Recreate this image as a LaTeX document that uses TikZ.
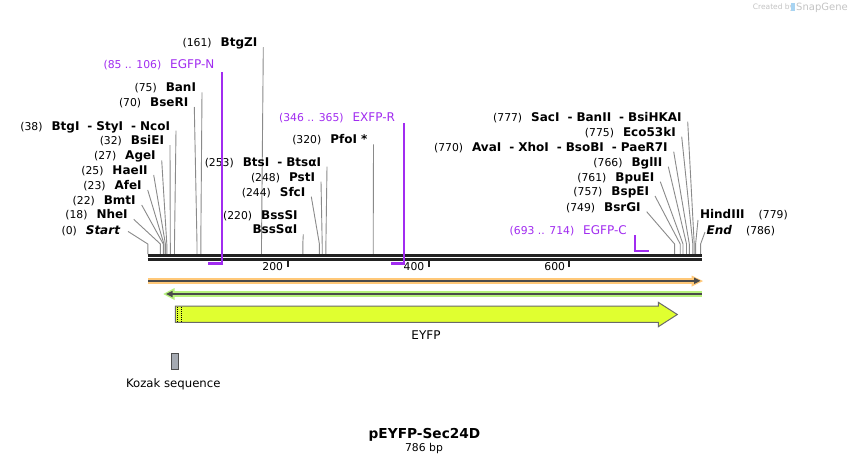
\documentclass[tikz,border=0pt]{standalone}
\usepackage{fontspec}
\setmainfont{DejaVu Sans}
\usetikzlibrary{arrows.meta}
\definecolor{primer}{HTML}{A12CF0}
\definecolor{cutgray}{HTML}{8A8A8A}
\definecolor{seqblack}{HTML}{222222}
\definecolor{orglow}{HTML}{FFC878}
\definecolor{grnglow}{HTML}{B6F27C}
\definecolor{arrdark}{HTML}{4A4A4A}
\definecolor{eyfpfill}{HTML}{E0FF30}
\definecolor{eyfpline}{HTML}{6A6A6A}
\definecolor{kozakfill}{HTML}{A5AAB2}
\definecolor{wmgray}{HTML}{C4C4C4}
\definecolor{wmblue}{HTML}{A8D4F2}
\newcommand\snNum{\fontsize{10.8}{13}\selectfont}
\newcommand\snName{\fontsize{12}{14}\selectfont\bfseries}
\newcommand\snSep{\hspace{8pt}-\hspace{4pt}}
\newcommand\snLbl[2]{{\snNum(#1)}\hspace{9pt}{\snName #2}}
\newcommand\snCut[5]{%
  \node[lab] (#1) at (#3,#4) {#5};
  \coordinate (#1k) at (#2,244);
  \coordinate (#1s) at (#2,254);
  \draw[cut] ([shift={(6,0.6)}]#1.base east) -- (#1k) -- (#1s);
}
\begin{document}
\begin{tikzpicture}[x=1pt,y=-1pt,
  lab/.style={inner sep=0pt,outer sep=0pt,anchor=base east},
  cut/.style={draw=cutgray,line width=0.9pt},
  primerline/.style={draw=primer,line width=1.8pt},
  primerfoot/.style={draw=primer,line width=2.2pt},
  seqline/.style={draw=seqblack,line width=2.7pt},
  tickline/.style={draw=seqblack,line width=2pt},
  ticklab/.style={inner sep=0pt,anchor=base east,font=\snNum},
  featdark/.style={draw=arrdark,line width=1.6pt}]
\fill[white] (0,0) rectangle (850,464);
\useasboundingbox (0,0) rectangle (850,464);

% watermark
\node[inner sep=0pt,anchor=base west,text=wmgray,font=\fontsize{7.5}{9}\selectfont] (wm1) at (752.7,9.4) {Created by};
\fill[wmblue] (791,2.5) rectangle (795,11);
\node[inner sep=0pt,anchor=base west,text=wmgray,font=\fontsize{10}{12}\selectfont] (wm2) at (796,10.6) {SnapGene};

% cut sites, left group
\node[lab] (start) at (120,234.4) {{\snNum(0)}\hspace{9pt}{\snName\itshape Start}};
\coordinate (startk) at (147.8,244);
\coordinate (starts) at (147.8,254);
\draw[cut] ([shift={(8,-3)}]start.base east) -- (startk) -- (starts);
\snCut{nheI}{160.4}{127.7}{218.7}{\snLbl{18}{NheI}}
\snCut{bmtI}{163.3}{135.7}{204.4}{\snLbl{22}{BmtI}}
\snCut{afeI}{164.0}{141.7}{189.4}{\snLbl{23}{AfeI}}
\snCut{haeII}{165.4}{147.7}{174.4}{\snLbl{25}{HaeII}}
\snCut{ageI}{166.8}{155.7}{159.7}{\snLbl{27}{AgeI}}
\snCut{bsiEI}{170.3}{164}{144.4}{\snLbl{32}{BsiEI}}
\snCut{btgI}{174.5}{170}{130.1}{\snLbl{38}{BtgI\snSep StyI\snSep NcoI}}
\snCut{bseRI}{197.0}{188.3}{106.4}{\snLbl{70}{BseRI}}
\snCut{banI}{200.8}{196}{91.7}{\snLbl{75}{BanI}}
\snCut{btgZI}{261.5}{257.3}{46.7}{\snLbl{161}{BtgZI}}

% middle group
\node[lab] (bssSI) at (297.7,219.4) {\snLbl{220}{BssSI}};
\node[lab] (bssSaI) at (297.3,233.7) {{\snName BssSαI}};
\coordinate (bssk) at (302.8,244);
\coordinate (bsss) at (302.8,254);
\draw[cut] ([shift={(6,0.6)}]bssSaI.base east) -- (bssk) -- (bsss);
\snCut{sfcI}{319.4}{305.3}{196.1}{\snLbl{244}{SfcI}}
\snCut{pstI}{322.2}{315}{181.1}{\snLbl{248}{PstI}}
\snCut{btsI}{325.9}{321}{166.1}{\snLbl{253}{BtsI\snSep BtsαI}}
\snCut{pfoI}{373.2}{367.5}{143.7}{\snLbl{320}{PfoI *}}

% right group
\snCut{bsrGI}{674.6}{640.7}{211.1}{\snLbl{749}{BsrGI}}
\snCut{bspEI}{680.2}{649}{195.4}{\snLbl{757}{BspEI}}
\snCut{bpuEI}{683.0}{654.3}{181.1}{\snLbl{761}{BpuEI}}
\snCut{bglII}{686.5}{662.3}{166.1}{\snLbl{766}{BglII}}
\snCut{avaI}{689.3}{667.7}{151.1}{\snLbl{770}{AvaI\snSep XhoI\snSep BsoBI\snSep PaeR7I}}
\snCut{ecoI}{692.8}{675.7}{136.1}{\snLbl{775}{Eco53kI}}
\snCut{sacI}{694.2}{681.7}{121.1}{\snLbl{777}{SacI\snSep BanII\snSep BsiHKAI}}
\node[lab,anchor=base west] (hindIII) at (700,218.4) {{\snName HindIII}\hspace{14pt}{\snNum(779)}};
\coordinate (hindk) at (695.6,244);
\coordinate (hinds) at (695.6,254);
\draw[cut] ([shift={(-2,1.6)}]hindIII.base west) -- (hindk) -- (hinds);
\node[lab,anchor=base west] (endl) at (706.7,234.4) {{\snName\itshape End}\hspace{14pt}{\snNum(786)}};
\coordinate (endk) at (700.6,244);
\coordinate (ends) at (700.6,254);
\draw[cut] ([shift={(-1.7,-2.4)}]endl.base west) -- (endk) -- (ends);

% sequence
\draw[seqline] (147.5,255.3) -- (701.5,255.3);
\draw[seqline] (147.5,259.4) -- (701.5,259.4);
\draw[tickline] (287.8,260) -- (287.8,266.5);
\draw[tickline] (428.5,260) -- (428.5,266.5);
\draw[tickline] (569.3,260) -- (569.3,266.5);
\node[ticklab] (t200) at (283.3,270.8) {200};
\node[ticklab] (t400) at (424.5,270.8) {400};
\node[ticklab] (t600) at (565.3,270.8) {600};

% primers
\node[lab,text=primer] (egfpN) at (214.3,68.7) {{\snNum(85 .. 106)}\hspace{9pt}{\fontsize{12}{14}\selectfont EGFP-N}};
\coordinate (egfpNt) at (222.3,72);
\coordinate (egfpNb) at (222.3,263.5);
\coordinate (egfpNf) at (207.5,263.5);
\draw[primerline] (egfpNt) -- (egfpNb);
\draw[primerfoot] ([xshift=0.9pt]egfpNb) -- (egfpNf);
\node[lab,text=primer] (exfpR) at (395,121.1) {{\snNum(346 .. 365)}\hspace{9pt}{\fontsize{12}{14}\selectfont EXFP-R}};
\coordinate (exfpRt) at (404.3,123);
\coordinate (exfpRb) at (404.3,263.5);
\coordinate (exfpRf) at (390.9,263.5);
\draw[primerline] (exfpRt) -- (exfpRb);
\draw[primerfoot] ([xshift=0.9pt]exfpRb) -- (exfpRf);
\node[lab,text=primer] (egfpC) at (626.7,234.4) {{\snNum(693 .. 714)}\hspace{9pt}{\fontsize{12}{14}\selectfont EGFP-C}};
\coordinate (egfpCt) at (634.6,235);
\coordinate (egfpCb) at (634.6,251);
\coordinate (egfpCf) at (649.4,251);
\draw[primerline] (egfpCt) -- (egfpCb);
\draw[primerfoot] ([xshift=-0.9pt]egfpCb) -- (egfpCf);

% orange forward arrow
\fill[orglow] (148,278) rectangle (694,284);
\fill[orglow] (691.5,275.5) -- (703,281) -- (691.5,286.7) -- cycle;
\draw[featdark,-{Triangle[length=6.5pt,width=6pt]}] (148,280.8) -- (700.5,280.8);

% green reverse arrow
\fill[grnglow] (172,291.2) rectangle (701.7,296.8);
\fill[grnglow] (174.5,288) -- (163.3,294) -- (174.5,300) -- cycle;
\draw[featdark,-{Triangle[length=6.5pt,width=6pt]}] (701.5,294) -- (166,294);

% EYFP feature
\filldraw[fill=eyfpfill,draw=eyfpline,line width=1pt]
  (175.3,306) -- (658.3,306) -- (658.3,302.3) -- (677.3,314.5) -- (658.3,326.7)
  -- (658.3,322.3) -- (175.3,322.3) -- cycle;
\draw[black,line width=0.8pt,dash pattern=on 1pt off 1pt] (177.6,306.8) -- (177.6,321.8);
\draw[black,line width=0.8pt,dash pattern=on 1pt off 1pt] (181.3,306.8) -- (181.3,321.8);
\node[inner sep=0pt,anchor=base,font=\fontsize{12}{14}\selectfont] (eyfp) at (426,339.8) {EYFP};

% Kozak
\filldraw[fill=kozakfill,draw=seqblack!80,line width=1pt] (171.7,353.3) rectangle (178.3,369.3);
\node[inner sep=0pt,anchor=base,font=\fontsize{11.7}{14}\selectfont] (kozak) at (173.3,387) {Kozak sequence};

% title
\node[inner sep=0pt,anchor=base,font=\fontsize{13.7}{16}\selectfont\bfseries] (title) at (424.5,438.3) {pEYFP-Sec24D};
\node[inner sep=0pt,anchor=base,font=\fontsize{10.8}{13}\selectfont] (bp) at (424,451.5) {786 bp};
\end{tikzpicture}
\end{document}
